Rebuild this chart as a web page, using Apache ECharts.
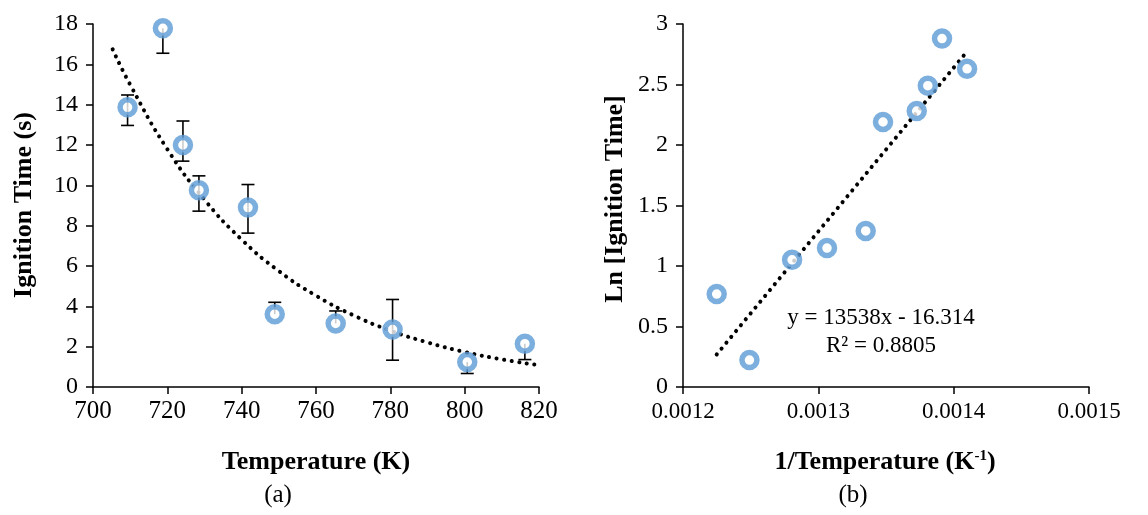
<!DOCTYPE html>
<html>
<head>
<meta charset="utf-8">
<script src="https://cdn.jsdelivr.net/npm/echarts@6/dist/echarts.min.js"></script>
<style>
html,body{margin:0;padding:0;background:#fff;}
#c{width:1148px;height:515px;}
</style>
</head>
<body>
<div id="c"></div>
<script>
// ---- Panel (a): ignition time vs temperature ----
const tempK = [709.3, 718.8, 724.2, 728.5, 741.7, 748.9, 765.3, 780.6, 800.7, 816.2];
const ignTime = [13.87, 17.79, 12.0, 9.76, 8.9, 3.61, 3.15, 2.85, 1.24, 2.15];
const errLow = [12.97, 16.55, 11.2, 8.72, 7.63, 3.61, 3.15, 1.33, 0.67, 1.36];
const errHigh = [14.48, 17.79, 13.19, 10.47, 10.04, 4.2, 3.77, 4.34, 1.24, 2.15];
// dotted trend curve
const trendAx = [705.3, 710, 720, 730, 740, 750, 760, 770, 780, 790, 800, 810, 820];
const trendAy = [16.74, 14.99, 11.79, 9.29, 7.31, 5.75, 4.53, 3.56, 2.80, 2.21, 1.74, 1.37, 1.08];
const xTicksA = [700, 720, 740, 760, 780, 800, 820];
const yTicksA = [0, 2, 4, 6, 8, 10, 12, 14, 16, 18];

// ---- Panel (b): ln(ignition time) vs 1/T ----
const invT = [0.0014099, 0.0013914, 0.0013809, 0.0013727, 0.0013478, 0.0013350, 0.0013064, 0.0012806, 0.0012491, 0.0012249];
const lnTime = [2.63, 2.88, 2.49, 2.28, 2.19, 1.29, 1.148, 1.051, 0.223, 0.768];
const trendBx = [0.0012249, 0.0014099];
const trendBy = [0.269, 2.773];
const xTicksB = ['0.0012', '0.0013', '0.0014', '0.0015'];
const yTicksB = ['0', '0.5', '1', '1.5', '2', '2.5', '3'];
const eqText = 'y = 13538x - 16.314';
const r2Text = 'R² = 0.8805';

const FONT = '"Liberation Serif", "Times New Roman", serif';
const BLUE = '#5B9BD5';

const chart = echarts.init(document.getElementById('c'), null, {renderer: 'canvas'});

function axisCommon(extra) {
  return Object.assign({
    axisLine: {show: true, onZero: false, lineStyle: {color: '#000', width: 1.5}},
    axisTick: {show: true, inside: false, length: 7, lineStyle: {color: '#000', width: 1.5}},
    splitLine: {show: false}
  }, extra);
}

const markerStyle = {color: '#fff', borderColor: BLUE, borderWidth: 5.5};

const option = {
  animation: false,
  backgroundColor: '#fff',
  grid: [
    {left: 93, top: 24, width: 446, height: 363},
    {left: 683, top: 24, width: 406, height: 363}
  ],
  xAxis: [
    axisCommon({gridIndex: 0, type: 'value', min: xTicksA[0], max: xTicksA[xTicksA.length - 1], interval: 20,
      axisLabel: {color: '#000', fontFamily: FONT, fontSize: 25, margin: 12}}),
    axisCommon({gridIndex: 1, type: 'value', min: Number(xTicksB[0]), max: Number(xTicksB[xTicksB.length - 1]), interval: 0.0001,
      axisLabel: {color: '#000', fontFamily: FONT, fontSize: 23, margin: 13, formatter: v => v.toFixed(4)}})
  ],
  yAxis: [
    axisCommon({gridIndex: 0, type: 'value', min: yTicksA[0], max: yTicksA[yTicksA.length - 1], interval: 2,
      axisLabel: {color: '#000', fontFamily: FONT, fontSize: 24, margin: 15}}),
    axisCommon({gridIndex: 1, type: 'value', min: Number(yTicksB[0]), max: Number(yTicksB[yTicksB.length - 1]), interval: 0.5,
      axisLabel: {color: '#000', fontFamily: FONT, fontSize: 24, margin: 15}})
  ],
  series: [
    {
      type: 'line', xAxisIndex: 0, yAxisIndex: 0, smooth: true, symbol: 'none', z: 2,
      data: trendAx.map((x, i) => [x, trendAy[i]]),
      lineStyle: {color: '#000', width: 4, type: [0.1, 7.5], cap: 'round'}
    },
    {
      type: 'custom', xAxisIndex: 0, yAxisIndex: 0, z: 3,
      data: tempK.map((x, i) => [x, errLow[i], errHigh[i], ignTime[i]]),
      renderItem: function (params, api) {
        const x = api.value(0);
        const lo = api.coord([x, api.value(1)]);
        const hi = api.coord([x, api.value(2)]);
        const mid = api.coord([x, api.value(3)]);
        const cw = 6.5;
        const st = {stroke: '#000', lineWidth: 1.6};
        const children = [];
        if (Math.abs(hi[1] - mid[1]) > 0.5) {
          children.push({type: 'line', shape: {x1: mid[0], y1: mid[1], x2: hi[0], y2: hi[1]}, style: st});
          children.push({type: 'line', shape: {x1: hi[0] - cw, y1: hi[1], x2: hi[0] + cw, y2: hi[1]}, style: st});
        }
        if (Math.abs(lo[1] - mid[1]) > 0.5) {
          children.push({type: 'line', shape: {x1: mid[0], y1: mid[1], x2: lo[0], y2: lo[1]}, style: st});
          children.push({type: 'line', shape: {x1: lo[0] - cw, y1: lo[1], x2: lo[0] + cw, y2: lo[1]}, style: st});
        }
        return {type: 'group', children: children};
      }
    },
    {
      type: 'scatter', xAxisIndex: 0, yAxisIndex: 0, z: 4,
      data: tempK.map((x, i) => [x, ignTime[i]]),
      symbol: 'circle', symbolSize: 15,
      itemStyle: markerStyle
    },
    {
      type: 'line', xAxisIndex: 1, yAxisIndex: 1, symbol: 'none', z: 2,
      data: trendBx.map((x, i) => [x, trendBy[i]]),
      lineStyle: {color: '#000', width: 4, type: [0.1, 7.5], cap: 'round'}
    },
    {
      type: 'scatter', xAxisIndex: 1, yAxisIndex: 1, z: 4,
      data: invT.map((x, i) => [x, lnTime[i]]),
      symbol: 'circle', symbolSize: 15,
      itemStyle: markerStyle
    }
  ],
  graphic: [
    {type: 'text', x: 24, y: 205, rotation: Math.PI / 2,
      style: {text: 'Ignition Time (s)', font: 'bold 26px ' + FONT, fill: '#000', align: 'center', verticalAlign: 'middle'}},
    {type: 'text', x: 316, y: 462,
      style: {text: 'Temperature (K)', font: 'bold 26px ' + FONT, fill: '#000', align: 'center', verticalAlign: 'middle'}},
    {type: 'text', x: 278, y: 495,
      style: {text: '(a)', font: '25px ' + FONT, fill: '#000', align: 'center', verticalAlign: 'middle'}},
    {type: 'text', x: 615, y: 199, rotation: Math.PI / 2,
      style: {text: 'Ln [Ignition Time]', font: 'bold 26px ' + FONT, fill: '#000', align: 'center', verticalAlign: 'middle'}},
    {type: 'text', x: 885, y: 462,
      style: {
        text: '{m|1/Temperature (K}{s|-1}{m|)}',
        align: 'center', verticalAlign: 'middle',
        rich: {
          m: {font: 'bold 26px ' + FONT, fill: '#000', color: '#000'},
          s: {font: 'bold 15px ' + FONT, fill: '#000', color: '#000', verticalAlign: 'top', padding: [0, 0, 12, 0]}
        }
      }},
    {type: 'text', x: 853, y: 495,
      style: {text: '(b)', font: '25px ' + FONT, fill: '#000', align: 'center', verticalAlign: 'middle'}},
    {type: 'text', x: 881, y: 318,
      style: {text: eqText, font: '23px ' + FONT, fill: '#000', align: 'center', verticalAlign: 'middle'}},
    {type: 'text', x: 881, y: 346,
      style: {text: r2Text, font: '23px ' + FONT, fill: '#000', align: 'center', verticalAlign: 'middle'}}
  ]
};
chart.setOption(option);
</script>
</body>
</html>
